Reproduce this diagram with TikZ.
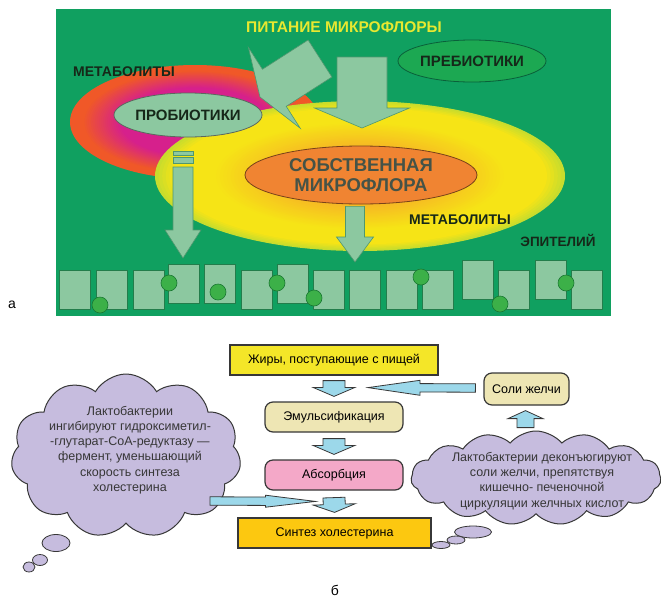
\documentclass[tikz,border=0pt]{standalone}
\usepackage{fontspec}
\setmainfont{Liberation Sans}
\usetikzlibrary{calc,shapes.geometric,shapes.symbols}

\definecolor{panel}{RGB}{16,160,96}
\definecolor{cellfill}{RGB}{140,200,160}
\definecolor{cellline}{RGB}{35,125,75}
\definecolor{dotfill}{RGB}{60,176,72}
\definecolor{dotline}{RGB}{25,120,50}
\definecolor{darktext}{RGB}{22,40,25}
\definecolor{titleyel}{RGB}{232,232,48}
\definecolor{ringin}{RGB}{214,32,140}
\definecolor{ringout}{RGB}{240,88,40}
\definecolor{yolkin}{RGB}{246,170,40}
\definecolor{yolkmid}{RGB}{246,228,22}
\definecolor{yolkout}{RGB}{200,220,45}
\definecolor{floraorange}{RGB}{240,132,50}
\definecolor{prebiofill}{RGB}{28,168,82}
\definecolor{boxline}{RGB}{55,55,55}
\definecolor{fatyel}{RGB}{244,230,40}
\definecolor{khaki}{RGB}{238,230,180}
\definecolor{pinkish}{RGB}{244,168,200}
\definecolor{synthorange}{RGB}{252,200,16}
\definecolor{lavender}{RGB}{198,188,222}
\definecolor{arrowblue}{RGB}{156,216,234}

% block arrow: [style]{start}{tip}{shaft half width}{head half width}{head length}
\newcommand\blockarrow[6][]{%
  \path (#2) coordinate (ba-s) (#3) coordinate (ba-e);
  \path ($(ba-e)!#6!(ba-s)$) coordinate (ba-h);
  \draw[#1] ($(ba-s)!#4!90:(ba-e)$) -- ($(ba-h)!#4!-90:(ba-s)$)
    -- ($(ba-h)!#5!-90:(ba-s)$) -- (ba-e) -- ($(ba-h)!#5!90:(ba-s)$)
    -- ($(ba-h)!#4!90:(ba-s)$) -- ($(ba-s)!#4!-90:(ba-e)$) -- cycle;}

\begin{document}
\begin{tikzpicture}[x=1pt,y=-1pt,
  caps/.style={font=\fontsize{15}{17}\selectfont\bfseries, text=darktext},
  blob/.style={ellipse, draw, line width=0.8pt, inner sep=0pt, inner xsep=-15pt},
  garrow/.style={fill=cellfill, draw=cellline!80, line width=0.6pt},
  cell/.style={fill=cellfill, draw=cellline, line width=1pt},
  dot/.style={fill=dotfill, draw=dotline, line width=0.6pt},
  box/.style={draw=boxline, line width=1.2pt, minimum height=30, inner sep=0pt, font=\fontsize{12.5}{14}\selectfont},
  roundbox/.style={box, rounded corners=8},
  barrow/.style={fill=arrowblue, draw=boxline, line width=0.8pt},
  puff/.style={cloud, cloud ignores aspect, draw=boxline, line width=1pt, fill=lavender, inner sep=0pt},
  bubble/.style={ellipse, draw=boxline, line width=0.8pt, fill=lavender, inner sep=0pt},
  cloudtext/.style={align=center, font=\fontsize{12.5}{15.3}\selectfont, text=boxline}]
\useasboundingbox (0,0) rectangle (661,600);

% ---- a: feeding of the microflora ----
\fill[panel] (56,9) rectangle (611,316);
% metabolite ring: red-orange rim, magenta inside
\foreach \i in {0,...,30}{
  \pgfmathsetmacro\f{1-\i/60}
  \pgfmathtruncatemacro\p{max(0,100-max(0,\i-6)*100/18)}
  \fill[ringout!\p!ringin] (195,122) ellipse ({125*\f} and {57*\f});
}
% yellow halo round the own microflora
\foreach \i in {0,...,40}{
  \pgfmathsetmacro\f{1-\i/57}
  \pgfmathtruncatemacro\a{min(100,\i*100/5)}
  \pgfmathtruncatemacro\b{max(0,min(100,(\i-16)*100/24))}
  \colorlet{ytmp}{yolkmid!\a!yolkout}
  \fill[yolkin!\b!ytmp] (360,176) ellipse ({205*\f} and {75*\f});
}

\node[blob, fill=floraorange, draw=floraorange!50!black, minimum width=232, minimum height=58,
  align=center, font=\fontsize{18.5}{20}\selectfont\bfseries, text=darktext!80] (flora) at (361,175) {СОБСТВЕННАЯ\\МИКРОФЛОРА};
\node[blob, fill=cellfill, draw=darktext!70, minimum width=148, minimum height=44, caps] (probio) at (188,115) {ПРОБИОТИКИ};
\node[blob, fill=prebiofill, draw=panel!60!black, minimum width=148, minimum height=42, caps] (prebio) at (472,61) {ПРЕБИОТИКИ};

\node[font=\fontsize{15.5}{17}\selectfont\bfseries, text=titleyel] (feed) at (344,27) {ПИТАНИЕ МИКРОФЛОРЫ};
\node[caps, font=\fontsize{14}{16}\selectfont\bfseries] (metab1) at (124,72) {МЕТАБОЛИТЫ};
\node[caps, font=\fontsize{14}{16}\selectfont\bfseries] (metab2) at (460,220) {МЕТАБОЛИТЫ};
\node[caps, font=\fontsize{13.5}{16}\selectfont\bfseries] (epith) at (558,240) {ЭПИТЕЛИЙ};

\coordinate (feed-s) at (362,57);   \coordinate (feed-e) at (362,128);
\coordinate (tilt-s) at (320,58.5); \coordinate (tilt-e) at (260,97);
\coordinate (pro-s) at (183,167);   \coordinate (pro-e) at (183,258);
\coordinate (own-s) at ($(flora.south)+(-6,2)$); \coordinate (own-e) at (355,262);

\blockarrow[garrow]{feed-s}{feed-e}{25pt}{47.5pt}{20pt}
\blockarrow[garrow]{tilt-s}{tilt-e}{22pt}{48pt}{17pt}
\blockarrow[garrow]{pro-s}{pro-e}{10pt}{18pt}{28pt}
\blockarrow[garrow]{own-s}{own-e}{9.5pt}{18.5pt}{25pt}
\draw[garrow] (173,151) rectangle (193,155);
\draw[garrow] (173,157.5) rectangle (193,163);

% epithelium
\foreach \x/\y in {59/270, 96/270, 133/270, 168/264, 204/264, 241/270, 277/264, 313/270,
                   349/270, 386/270, 422/270, 462/260, 498/270, 535/260, 571/270}
  \draw[cell] (\x,\y) rectangle ++(31,39);
\foreach \x/\y in {100/305, 169/283, 218/292, 277/283, 314/298, 421/277, 500/304, 566/283}
  \draw[dot] (\x,\y) circle (8);

\node[font=\fontsize{14}{16}\selectfont] (lbla) at (12,305) {а};

% ---- b: cholesterol ----
\node[box, fill=fatyel, minimum width=208] (fats) at (334,360) {Жиры, поступающие с пищей};
\node[roundbox, fill=khaki, minimum width=138] (emul) at (334,417) {Эмульсификация};
\node[roundbox, fill=pinkish, minimum width=138] (absorb) at (334,475) {Абсорбция};
\node[box, fill=synthorange, minimum width=193] (synth) at (334.5,533) {Синтез холестерина};
\node[roundbox, fill=khaki, minimum width=85, minimum height=32] (bile) at (526.5,389) {Соли желчи};

\node[puff, cloud puffs=11, cloud puff arc=120, minimum width=230, minimum height=164] (lcloud) at (126,456) {};
\node[cloudtext] (ltext) at (130,450) {Лактобактерии\\ингибируют гидроксиметил-\\-глутарат-СоА-редуктазу —\\фермент, уменьшающий\\скорость синтеза\\холестерина};
\node[bubble, minimum width=28, minimum height=17] (lbub1) at (56,543) {};
\node[bubble, minimum width=15, minimum height=11] (lbub2) at (40,560) {};
\node[bubble, minimum width=12, minimum height=10] (lbub3) at (29,567) {};

\node[puff, cloud puffs=15, cloud puff arc=100, minimum width=250, minimum height=94] (rcloud) at (536,478) {};
\node[cloudtext] (rtext) at (542,481) {Лактобактерии деконъюгируют\\соли желчи, препятствуя\\кишечно- печеночной\\циркуляции желчных кислот};
\node[bubble, minimum width=37, minimum height=12] (rbub1) at (473,532) {};
\node[bubble, minimum width=18, minimum height=8] (rbub2) at (456,540) {};
\node[bubble, minimum width=18, minimum height=7] (rbub3) at (441,545) {};

\blockarrow[barrow]{$(fats.south)+(0,5)$}{$(emul.north)+(0,-5)$}{11pt}{21pt}{9pt}
\blockarrow[barrow]{$(emul.south)+(0,6)$}{$(absorb.north)+(0,-5)$}{11pt}{21pt}{9pt}
\blockarrow[barrow]{$(absorb.south)+(0,7)$}{$(synth.north)+(0,-5)$}{11pt}{21pt}{8pt}
\blockarrow[barrow]{$(bile.west)+(-8,-1)$}{$(fats.south)+(34,12)$}{4.2pt}{7.5pt}{52pt}
\blockarrow[barrow]{$(bile.south)+(-1,22)$}{$(bile.south)+(-1,5)$}{8.5pt}{17.5pt}{8pt}
\blockarrow[barrow]{210,501}{$(synth.north)+(-19,-16)$}{4.2pt}{6pt}{50pt}

\node[font=\fontsize{14}{16}\selectfont] (lblb) at (335,590) {б};
\end{tikzpicture}
\end{document}
